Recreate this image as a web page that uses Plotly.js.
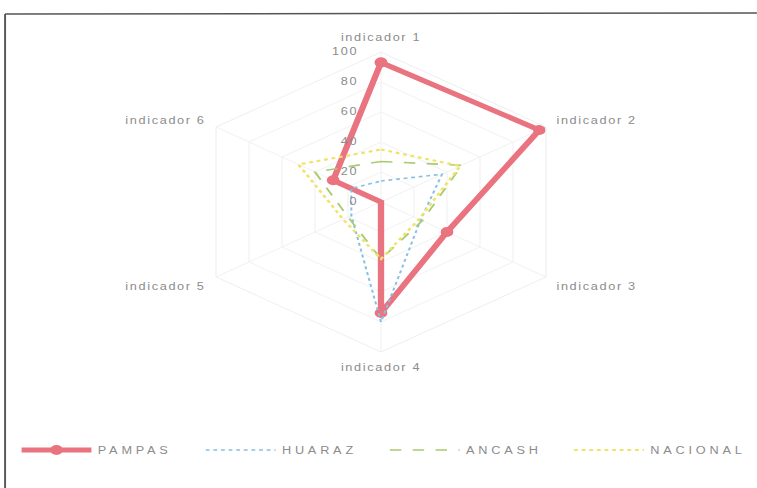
<!DOCTYPE html>
<html><head><meta charset="utf-8">
<script src="https://cdn.plot.ly/plotly-3.0.1.min.js"></script>
<style>
html,body{margin:0;padding:0;background:#fff;overflow:hidden;}
#wrap{width:757px;height:488px;overflow:hidden;position:relative;}
#chart{width:596px;height:488px;transform:scaleX(1.27);transform-origin:0 0;}
#chart svg text{letter-spacing:1.3px;}
#chart svg text.legendtext{letter-spacing:3px;}
</style></head><body><div id="wrap"><div id="chart"></div></div>
<script>
const categories = ['indicador 1','indicador 2','indicador 3','indicador 4','indicador 5','indicador 6'];
const pampas   = [93, 96, 40, 74, 0, 29];
const huaraz   = [14, 37, 24, 80, 18, 18];
const ancash   = [27, 49, 25, 38, 20, 40];
const nacional = [35, 48, 23, 38, 23, 50];
const radialTicks = [0, 20, 40, 60, 80, 100];

function closed(a){ return a.concat([a[0]]); }
const theta = closed(categories);

const traces = [
  {type:'scatterpolar', name:'PAMPAS', r:closed(pampas), theta:theta, mode:'lines+markers',
   line:{color:'#EA7380', width:5}, marker:{color:'#EA7380', size:10}},
  {type:'scatterpolar', name:'HUARAZ', r:closed(huaraz), theta:theta, mode:'lines',
   line:{color:'#86BFE3', width:1.6, dash:'dot'}},
  {type:'scatterpolar', name:'ANCASH', r:closed(ancash), theta:theta, mode:'lines',
   line:{color:'#A9CC70', width:1.6, dash:'dash'}},
  {type:'scatterpolar', name:'NACIONAL', r:closed(nacional), theta:theta, mode:'lines',
   line:{color:'#F0E36A', width:2.2, dash:'dot'}}
];

const layout = {
  width:596, height:488,
  margin:{l:0, r:0, t:0, b:0},
  paper_bgcolor:'#ffffff',
  showlegend:true,
  font:{family:'Liberation Sans, Arial, sans-serif', color:'#8c8c8c', size:10},
  polar:{
    domain:{x:[150/596, 450/596], y:[136/488, 436/488]},
    gridshape:'linear',
    bgcolor:'#ffffff',
    radialaxis:{range:[0,100], tickvals:radialTicks, ticktext:radialTicks.map(String),
      angle:90, side:'counterclockwise', tickangle:90, showline:false,
      ticks:'outside', ticklen:14, tickcolor:'rgba(0,0,0,0)',
      gridcolor:'#f3f3f3', tickfont:{size:10, color:'#8c8c8c'}},
    angularaxis:{rotation:90, direction:'clockwise', categoryorder:'array', categoryarray:categories,
      gridcolor:'#f3f3f3', linecolor:'#f0f0f0', ticks:'outside', ticklen:7, tickcolor:'rgba(0,0,0,0)',
      tickfont:{size:10, color:'#8c8c8c'}}
  },
  legend:{orientation:'h', x:12/596, xanchor:'left', y:38/488, yanchor:'middle',
    itemwidth:55, entrywidth:75, entrywidthmode:'pixels', font:{size:10, color:'#8c8c8c'},
    bgcolor:'rgba(0,0,0,0)'},
  shapes:[
    {type:'line', xref:'paper', yref:'paper', x0:4/596, x1:4/596, y0:0, y1:1-14/488,
     line:{color:'#555', width:1.5}},
    {type:'line', xref:'paper', yref:'paper', x0:4/596, x1:1, y0:1-14/488, y1:1-13/488,
     line:{color:'#555', width:1.5}}
  ]
};

Plotly.newPlot('chart', traces, layout, {displayModeBar:false, staticPlot:true});
</script></body></html>
